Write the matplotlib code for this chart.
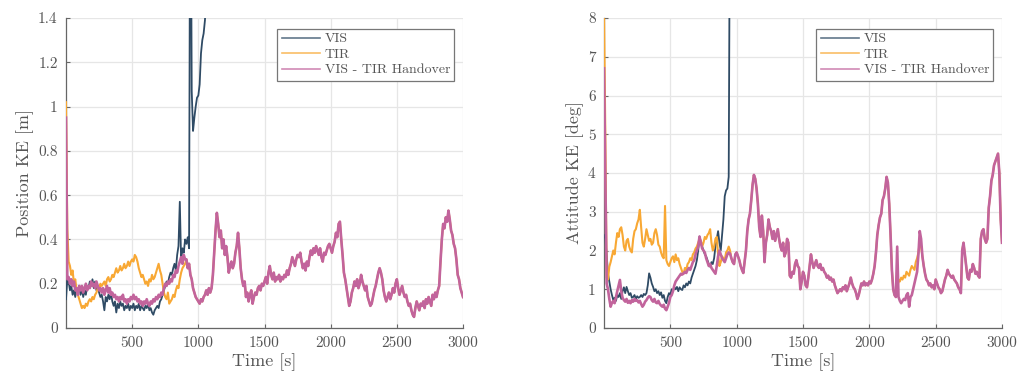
import numpy as np
import matplotlib
matplotlib.use("Agg")
import matplotlib.pyplot as plt
from matplotlib.ticker import FuncFormatter

plt.rcParams['font.family'] = ['cmr10', 'DejaVu Serif']
plt.rcParams['axes.formatter.use_mathtext'] = True
plt.rcParams['mathtext.fontset'] = 'cm'

# ---------------- data (sampled every 10 s) ----------------
time_step = 10

pos_tir = [
    1.02, 0.45, 0.30, 0.28, 0.24, 0.26, 0.20, 0.22, 0.17, 0.15,
    0.13, 0.11, 0.09, 0.10, 0.09, 0.11, 0.10, 0.12, 0.13, 0.12,
    0.14, 0.13, 0.15, 0.16, 0.18, 0.17, 0.20, 0.19, 0.20, 0.21,
    0.19, 0.22, 0.23, 0.21, 0.22, 0.24, 0.23, 0.25, 0.27, 0.25,
    0.26, 0.28, 0.26, 0.27, 0.29, 0.27, 0.28, 0.30, 0.28, 0.30,
    0.31, 0.30, 0.33, 0.32, 0.30, 0.27, 0.25, 0.23, 0.24, 0.22,
    0.20, 0.21, 0.19, 0.22, 0.21, 0.24, 0.22, 0.23, 0.25, 0.27,
    0.29, 0.26, 0.24, 0.20, 0.16, 0.14, 0.13, 0.16, 0.11, 0.12,
    0.13, 0.15, 0.14, 0.17, 0.19, 0.18, 0.22, 0.25, 0.27, 0.28,
    0.29, 0.31, 0.27, 0.29, 0.24, 0.22, 0.18, 0.16, 0.14, 0.13,
    0.12, 0.11, 0.13, 0.12, 0.14, 0.15, 0.17, 0.15, 0.18, 0.16,
    0.18, 0.24, 0.34, 0.44, 0.52, 0.47, 0.41, 0.44, 0.36, 0.40,
    0.33, 0.37, 0.32, 0.25, 0.28, 0.30, 0.27, 0.29, 0.34, 0.37,
    0.43, 0.36, 0.27, 0.22, 0.19, 0.21, 0.14, 0.16, 0.12, 0.15,
    0.17, 0.11, 0.14, 0.16, 0.15, 0.18, 0.19, 0.17, 0.20, 0.19,
    0.21, 0.23, 0.20, 0.25, 0.28, 0.24, 0.22, 0.25, 0.21, 0.23,
    0.22, 0.24, 0.21, 0.23, 0.22, 0.24, 0.23, 0.26, 0.24, 0.27,
    0.29, 0.32, 0.30, 0.28, 0.31, 0.33, 0.32, 0.34, 0.30, 0.27,
    0.29, 0.26, 0.30, 0.28, 0.32, 0.35, 0.33, 0.36, 0.34, 0.37,
    0.35, 0.33, 0.36, 0.32, 0.30, 0.34, 0.33, 0.35, 0.37, 0.38,
    0.36, 0.34, 0.37, 0.39, 0.43, 0.41, 0.47, 0.48, 0.40, 0.33,
    0.25, 0.22, 0.18, 0.14, 0.10, 0.12, 0.16, 0.18, 0.21, 0.19,
    0.22, 0.18, 0.20, 0.24, 0.21, 0.19, 0.17, 0.19, 0.14, 0.12,
    0.10, 0.11, 0.14, 0.17, 0.19, 0.22, 0.25, 0.27, 0.25, 0.22,
    0.17, 0.14, 0.12, 0.14, 0.16, 0.13, 0.15, 0.18, 0.16, 0.20,
    0.22, 0.18, 0.15, 0.17, 0.19, 0.16, 0.14, 0.15, 0.12, 0.10,
    0.11, 0.08, 0.06, 0.05, 0.09, 0.12, 0.10, 0.08, 0.11, 0.10,
    0.12, 0.09, 0.13, 0.11, 0.14, 0.12, 0.10, 0.15, 0.13, 0.16,
    0.14, 0.17, 0.19, 0.30, 0.40, 0.47, 0.45, 0.50, 0.48, 0.53,
    0.49, 0.44, 0.42, 0.38, 0.36, 0.31, 0.24, 0.22, 0.18, 0.16,
    0.14,
]

pos_handover_early = [
    0.95, 0.22, 0.23, 0.20, 0.22, 0.19, 0.21, 0.17, 0.18, 0.15,
    0.19, 0.17, 0.19, 0.16, 0.18, 0.20, 0.17, 0.19, 0.18, 0.21,
    0.19, 0.20, 0.18, 0.21, 0.19, 0.17, 0.18, 0.16, 0.18, 0.15,
    0.17, 0.19, 0.16, 0.18, 0.15, 0.16, 0.14, 0.15, 0.13, 0.14,
    0.12, 0.14, 0.13, 0.15, 0.12, 0.13, 0.11, 0.13, 0.12, 0.14,
    0.13, 0.15, 0.13, 0.14, 0.12, 0.13, 0.11, 0.12, 0.10, 0.12,
    0.11, 0.13, 0.11, 0.10, 0.12, 0.11, 0.13, 0.12, 0.14, 0.13,
    0.15, 0.14, 0.16, 0.15, 0.18, 0.20, 0.19, 0.21, 0.20, 0.22,
    0.21, 0.24, 0.23, 0.26, 0.25, 0.28, 0.30, 0.32, 0.29, 0.33,
    0.31,
]

pos_vis = [
    0.13, 0.22, 0.21, 0.17, 0.19, 0.15, 0.17, 0.14, 0.18, 0.16,
    0.19, 0.15, 0.18, 0.14, 0.17, 0.15, 0.19, 0.18, 0.21, 0.19,
    0.22, 0.18, 0.21, 0.17, 0.19, 0.16, 0.14, 0.15, 0.12, 0.08,
    0.14, 0.12, 0.15, 0.13, 0.16, 0.12, 0.10, 0.12, 0.07, 0.11,
    0.09, 0.12, 0.10, 0.11, 0.08, 0.10, 0.09, 0.11, 0.08, 0.10,
    0.09, 0.11, 0.08, 0.10, 0.09, 0.11, 0.08, 0.10, 0.09, 0.08,
    0.10, 0.09, 0.11, 0.08, 0.09, 0.07, 0.06, 0.08, 0.09, 0.10,
    0.09, 0.12, 0.13, 0.15, 0.17, 0.19, 0.21, 0.20, 0.23, 0.25,
    0.24, 0.27, 0.29, 0.26, 0.33, 0.37, 0.57, 0.30, 0.36, 0.34,
    0.40, 0.38, 0.41, 0.36, 2.50, 1.07, 0.89, 0.95, 1.00, 1.04,
    1.05, 1.10, 1.24, 1.30, 1.33, 1.39, 1.50, 1.70, 2.00,
]

att_tir = [
    8.20, 5.00, 1.30, 1.25, 1.58, 1.70, 1.85, 2.00, 1.90, 2.20,
    2.45, 2.35, 2.55, 2.60, 2.40, 2.10, 2.00, 2.25, 2.30, 2.10,
    2.00, 1.95, 2.30, 2.50, 2.55, 2.70, 2.80, 3.05, 2.60, 2.20,
    2.10, 2.30, 2.55, 2.40, 2.25, 2.30, 2.15, 2.20, 2.45, 2.55,
    2.40, 2.15, 2.10, 1.95, 1.85, 1.80, 3.15, 1.75, 1.65, 1.60,
    1.70, 1.80, 1.85, 1.70, 1.90, 1.75, 1.80, 1.65, 1.55, 1.45,
    1.40, 1.55, 1.50, 1.65, 1.70, 1.80, 1.75, 1.90, 1.95, 2.05,
    2.10, 2.20, 2.30, 2.25, 2.10, 2.20, 2.35, 2.30, 2.40, 2.45,
    2.55, 2.20, 2.00, 2.10, 2.30, 2.35, 1.90, 1.60, 1.70, 1.85,
    1.80, 1.75, 1.95, 2.00, 2.10, 2.00, 1.80, 1.70, 1.65, 1.90,
    1.95, 1.85, 1.75, 1.60, 1.50, 1.42, 1.70, 2.00, 2.50, 2.80,
    2.95, 3.30, 3.70, 3.95, 3.85, 3.60, 3.20, 2.60, 2.35, 2.90,
    2.50, 1.70, 2.20, 2.40, 2.80, 2.60, 2.50, 2.30, 2.50, 2.25,
    2.40, 2.55, 2.30, 2.10, 2.00, 2.20, 1.85, 1.95, 2.30, 2.20,
    1.35, 1.30, 1.45, 1.40, 1.65, 1.75, 1.60, 1.55, 1.00, 1.20,
    1.45, 1.35, 1.10, 1.05, 1.30, 1.60, 1.90, 1.70, 1.55, 1.65,
    1.75, 1.60, 1.55, 1.65, 1.50, 1.55, 1.45, 1.40, 1.30, 1.35,
    1.25, 1.30, 1.20, 1.25, 1.10, 1.00, 0.90, 0.95, 1.00, 0.95,
    1.05, 1.00, 1.10, 0.95, 1.05, 1.15, 1.30, 1.15, 1.05, 1.00,
    0.90, 0.75, 0.85, 1.00, 1.15, 1.10, 1.20, 1.10, 1.15, 1.10,
    1.20, 1.15, 1.25, 1.40, 1.60, 1.95, 2.40, 2.65, 2.85, 2.95,
    3.30, 3.40, 3.60, 3.90, 3.75, 3.20, 2.40, 1.50, 1.00, 0.85,
    0.80, 0.90, 1.25, 1.20, 1.30, 1.25, 1.35, 1.30, 1.45, 1.40,
    1.35, 1.50, 1.60, 1.55, 1.50, 1.70, 1.80, 1.95, 2.20, 2.10,
    1.85, 1.60, 1.40, 1.25, 1.20, 1.10, 1.15, 1.05, 1.10, 1.00,
    1.25, 1.15, 1.05, 1.00, 0.90, 0.95, 1.10, 1.25, 1.35, 1.50,
    1.40, 1.35, 1.30, 1.35, 1.25, 1.20, 1.15, 1.05, 1.00, 0.90,
    2.00, 2.20, 1.90, 1.60, 1.30, 1.25, 1.50, 1.45, 1.65, 1.55,
    1.40, 1.45, 1.35, 1.30, 2.30, 2.50, 2.55, 2.30, 2.20, 2.30,
    3.10, 3.40, 3.80, 3.95, 4.20, 4.30, 4.40, 4.50, 4.00, 2.80,
    2.20,
]

att_handover_early = [
    6.70, 4.00, 1.15, 1.00, 0.75, 0.55, 0.65, 0.70, 0.64, 0.80,
    0.95, 1.10, 1.24, 0.95, 0.78, 0.72, 0.68, 0.75, 0.65, 0.70,
    0.64, 0.72, 0.68, 0.75, 0.70, 0.72, 0.66, 0.70, 0.62, 0.55,
    0.60, 0.68, 0.72, 0.78, 0.82, 0.80, 0.72, 0.68, 0.75, 0.66,
    0.64, 0.70, 0.62, 0.58, 0.55, 0.60, 0.50, 0.46, 0.55, 0.65,
    0.80, 0.85, 0.95, 1.10, 1.20, 1.25, 1.30, 1.35, 1.40, 1.38,
    1.41, 1.45, 1.42, 1.50, 1.55, 1.50, 1.60, 1.70, 1.75, 1.90,
    2.00, 2.10, 2.36, 2.20, 2.05, 2.00, 1.95, 1.80, 1.70, 1.60,
    1.65, 1.55, 1.50, 1.45, 1.40, 1.60, 1.85, 2.00, 1.90, 1.80,
    1.75, 1.70, 1.80, 1.90, 1.95, 1.92,
]

# handover attitude differs from TIR between 2190 s and 2400 s
att_handover_gap_start = 2190
att_handover_gap = [
    0.85, 0.80, 2.10, 0.80, 0.70, 0.64, 0.70, 0.75, 0.72, 0.85,
    0.90, 0.55, 0.80, 0.85, 1.00, 1.15, 1.30, 1.45, 1.90, 2.50,
    2.30, 1.85,
]

att_vis = [
    2.40, 2.30, 1.90, 1.40, 1.20, 1.00, 0.85, 0.72, 0.78, 0.70,
    0.85, 0.80, 0.90, 0.75, 0.95, 1.05, 0.90, 1.06, 0.95, 0.85,
    0.90, 0.78, 0.80, 0.85, 0.75, 0.82, 0.78, 0.80, 0.85, 0.80,
    0.88, 0.85, 0.90, 1.10, 1.41, 1.30, 1.15, 1.06, 0.95, 1.00,
    0.90, 0.95, 0.85, 0.92, 0.78, 0.85, 0.70, 0.64, 0.80, 0.90,
    0.85, 1.00, 0.95, 1.05, 1.00, 1.06, 0.95, 1.05, 1.00, 0.98,
    1.10, 1.05, 1.15, 1.10, 1.20, 1.15, 1.30, 1.40, 1.50, 1.60,
    1.75, 2.00, 2.36, 2.20, 2.10, 2.00, 1.90, 1.85, 1.75, 1.65,
    1.58, 1.70, 1.65, 1.80, 2.10, 2.30, 2.50, 2.20, 2.00, 2.40,
    2.80, 3.40, 3.55, 3.60, 3.90, 12.0,
]

series_labels = ["VIS", "TIR", "VIS - TIR Handover"]
x_ticks = [500, 1000, 1500, 2000, 2500, 3000]
pos_yticks = [0, 0.2, 0.4, 0.6, 0.8, 1.0, 1.2, 1.4]
att_yticks = [0, 1, 2, 3, 4, 5, 6, 7, 8]

# ---------------- assemble series ----------------
def tt(values):
    return np.arange(len(values)) * time_step

pos_handover = list(pos_handover_early) + list(pos_tir[len(pos_handover_early):])
att_handover = list(att_handover_early) + list(att_tir[len(att_handover_early):])
gi = att_handover_gap_start // time_step
att_handover[gi:gi + len(att_handover_gap)] = att_handover_gap

c_vis = "#2f4b65"
c_tir = "#f8a834"
c_hand = "#c2649c"
c_text = "#555555"
c_axis = "#666666"
c_grid = "#e6e6e6"

fig = plt.figure(figsize=(10.32, 3.76), dpi=100)
W, H = 1032, 376
ax1 = fig.add_axes([66 / W, (H - 328) / H, 397 / W, 310 / H])
ax2 = fig.add_axes([604 / W, (H - 328) / H, 398 / W, 310 / H])

fmt = FuncFormatter(lambda v, p: f"{v:g}")

def style(ax, yticks, ylim, ylabel):
    ax.set_xlim(0, 3000)
    ax.set_ylim(*ylim)
    ax.set_xticks(x_ticks)
    ax.set_yticks(yticks)
    ax.yaxis.set_major_formatter(fmt)
    ax.xaxis.set_major_formatter(fmt)
    ax.grid(True, color=c_grid, linewidth=0.9)
    ax.set_axisbelow(True)
    for s in ["top", "right"]:
        ax.spines[s].set_visible(False)
    for s in ["left", "bottom"]:
        ax.spines[s].set_color(c_axis)
        ax.spines[s].set_linewidth(0.9)
        ax.spines[s].set_zorder(1.5)
    ax.tick_params(direction="in", length=3, width=0.8, colors=c_axis,
                   labelcolor=c_text, labelsize=11, pad=6)
    ax.set_xlabel("Time [s]", color=c_text, fontsize=13, labelpad=2)
    ax.set_ylabel(ylabel, color=c_text, fontsize=13, labelpad=3)

def draw(ax, vis, tir, hand):
    ax.plot(tt(vis), vis, color=c_vis, lw=1.3, label=series_labels[0])
    ax.plot(tt(tir), tir, color=c_tir, lw=1.5, label=series_labels[1])
    ax.plot(tt(hand), hand, color=c_hand, lw=1.9, label=series_labels[2])
    leg = ax.legend(loc="upper right", bbox_to_anchor=(0.985, 0.975), fontsize=10,
                    frameon=True, fancybox=False, handlelength=2.8,
                    handletextpad=0.3, borderpad=0.3, labelspacing=0.2,
                    borderaxespad=0.2)
    leg.get_frame().set_edgecolor("#777777")
    leg.get_frame().set_linewidth(0.9)
    leg.get_frame().set_alpha(1)
    for t in leg.get_texts():
        t.set_color(c_text)
    for ln in leg.get_lines():
        ln.set_linewidth(1.2)
        ln.set_alpha(0.75)

draw(ax1, pos_vis, pos_tir, pos_handover)
style(ax1, pos_yticks, (0, 1.4), "Position KE [m]")
draw(ax2, att_vis, att_tir, att_handover)
style(ax2, att_yticks, (0, 8), "Attitude KE [deg]")

fig.savefig("out.png", dpi=100)
